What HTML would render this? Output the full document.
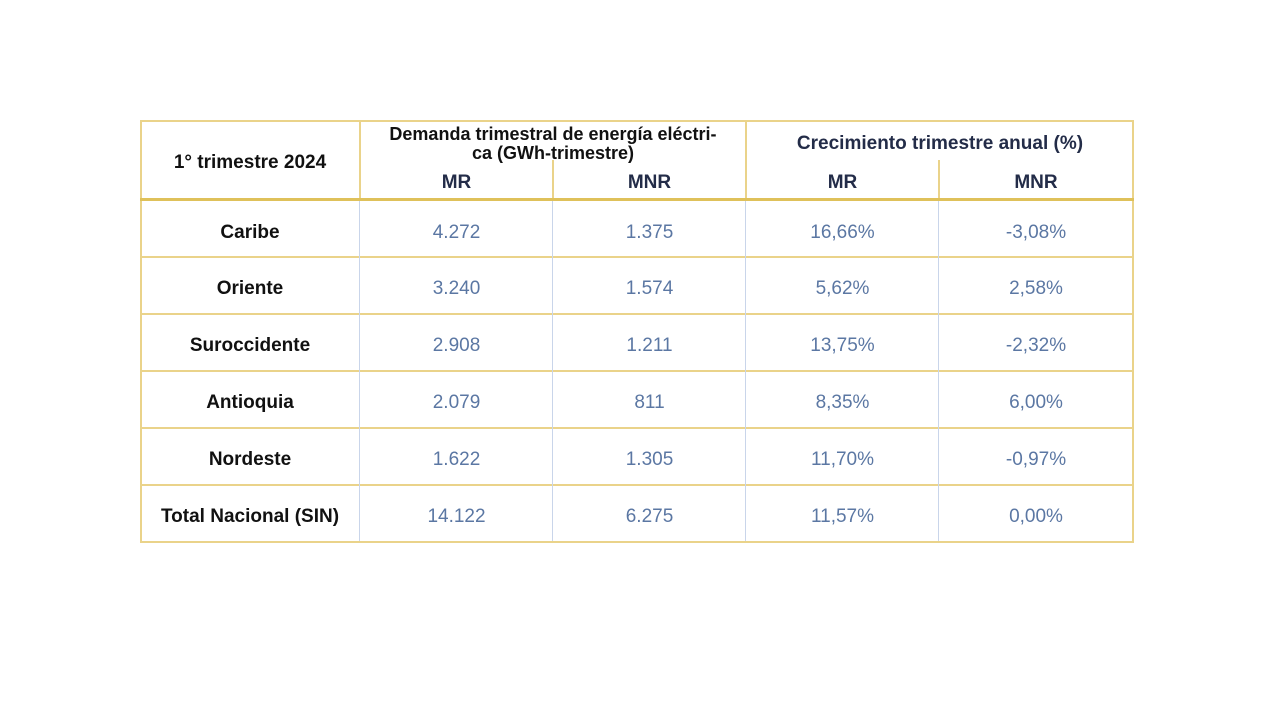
<!DOCTYPE html>
<html><head><meta charset="utf-8"><style>
body{margin:0;width:1280px;height:720px;background:#fff;position:relative;overflow:hidden;font-family:"Liberation Sans",sans-serif}
.l{position:absolute;background:#ead38a}
.v{position:absolute;background:#c9d5ea;width:1px}
.t{position:absolute;text-align:center;font-size:19px;line-height:22px}
.b{font-weight:bold;color:#111}
.n{color:#5b77a3}
.h{font-weight:bold;color:#232c48}
</style></head><body>
<!-- outer border -->
<div class="l" style="left:140px;top:120px;width:994px;height:2px"></div>
<div class="l" style="left:140px;top:541px;width:994px;height:2px"></div>
<div class="l" style="left:140px;top:120px;width:2px;height:423px"></div>
<div class="l" style="left:1132px;top:120px;width:2px;height:423px"></div>
<!-- header verticals -->
<div class="l" style="left:359px;top:120px;width:2px;height:80px"></div>
<div class="l" style="left:745px;top:120px;width:2px;height:80px"></div>
<div class="l" style="left:552px;top:160px;width:2px;height:40px"></div>
<div class="l" style="left:938px;top:160px;width:2px;height:40px"></div>
<!-- thick header line -->
<div class="l" style="left:140px;top:198px;width:994px;height:3px;background:#dfc15a"></div>
<!-- row lines -->
<div class="l" style="left:140px;top:256px;width:994px;height:2px"></div>
<div class="l" style="left:140px;top:313px;width:994px;height:2px"></div>
<div class="l" style="left:140px;top:370px;width:994px;height:2px"></div>
<div class="l" style="left:140px;top:427px;width:994px;height:2px"></div>
<div class="l" style="left:140px;top:484px;width:994px;height:2px"></div>
<!-- body verticals -->
<div class="v" style="left:359px;top:201px;height:340px"></div>
<div class="v" style="left:552px;top:201px;height:340px"></div>
<div class="v" style="left:745px;top:201px;height:340px"></div>
<div class="v" style="left:938px;top:201px;height:340px"></div>
<!-- header text -->
<div class="t b" style="left:140px;width:220px;top:152px">1° trimestre 2024</div>
<div class="t h" style="left:360px;width:386px;top:125px;line-height:19px;font-size:18px;color:#111">Demanda trimestral de energía eléctri-<br>ca (GWh-trimestre)</div>
<div class="t h" style="left:746px;width:388px;top:133px">Crecimiento trimestre anual (%)</div>
<div class="t h" style="left:360px;width:193px;top:172px">MR</div>
<div class="t h" style="left:553px;width:193px;top:172px">MNR</div>
<div class="t h" style="left:746px;width:193px;top:172px">MR</div>
<div class="t h" style="left:939px;width:194px;top:172px">MNR</div>
<!-- rows -->
<div class="t b" style="left:140px;width:220px;top:222px">Caribe</div>
<div class="t n" style="left:360px;width:193px;top:222px">4.272</div>
<div class="t n" style="left:553px;width:193px;top:222px">1.375</div>
<div class="t n" style="left:746px;width:193px;top:222px">16,66%</div>
<div class="t n" style="left:939px;width:194px;top:222px">-3,08%</div>

<div class="t b" style="left:140px;width:220px;top:278px">Oriente</div>
<div class="t n" style="left:360px;width:193px;top:278px">3.240</div>
<div class="t n" style="left:553px;width:193px;top:278px">1.574</div>
<div class="t n" style="left:746px;width:193px;top:278px">5,62%</div>
<div class="t n" style="left:939px;width:194px;top:278px">2,58%</div>

<div class="t b" style="left:140px;width:220px;top:335px">Suroccidente</div>
<div class="t n" style="left:360px;width:193px;top:335px">2.908</div>
<div class="t n" style="left:553px;width:193px;top:335px">1.211</div>
<div class="t n" style="left:746px;width:193px;top:335px">13,75%</div>
<div class="t n" style="left:939px;width:194px;top:335px">-2,32%</div>

<div class="t b" style="left:140px;width:220px;top:392px">Antioquia</div>
<div class="t n" style="left:360px;width:193px;top:392px">2.079</div>
<div class="t n" style="left:553px;width:193px;top:392px">811</div>
<div class="t n" style="left:746px;width:193px;top:392px">8,35%</div>
<div class="t n" style="left:939px;width:194px;top:392px">6,00%</div>

<div class="t b" style="left:140px;width:220px;top:449px">Nordeste</div>
<div class="t n" style="left:360px;width:193px;top:449px">1.622</div>
<div class="t n" style="left:553px;width:193px;top:449px">1.305</div>
<div class="t n" style="left:746px;width:193px;top:449px">11,70%</div>
<div class="t n" style="left:939px;width:194px;top:449px">-0,97%</div>

<div class="t b" style="left:140px;width:220px;top:506px">Total Nacional (SIN)</div>
<div class="t n" style="left:360px;width:193px;top:506px">14.122</div>
<div class="t n" style="left:553px;width:193px;top:506px">6.275</div>
<div class="t n" style="left:746px;width:193px;top:506px">11,57%</div>
<div class="t n" style="left:939px;width:194px;top:506px">0,00%</div>
</body></html>
